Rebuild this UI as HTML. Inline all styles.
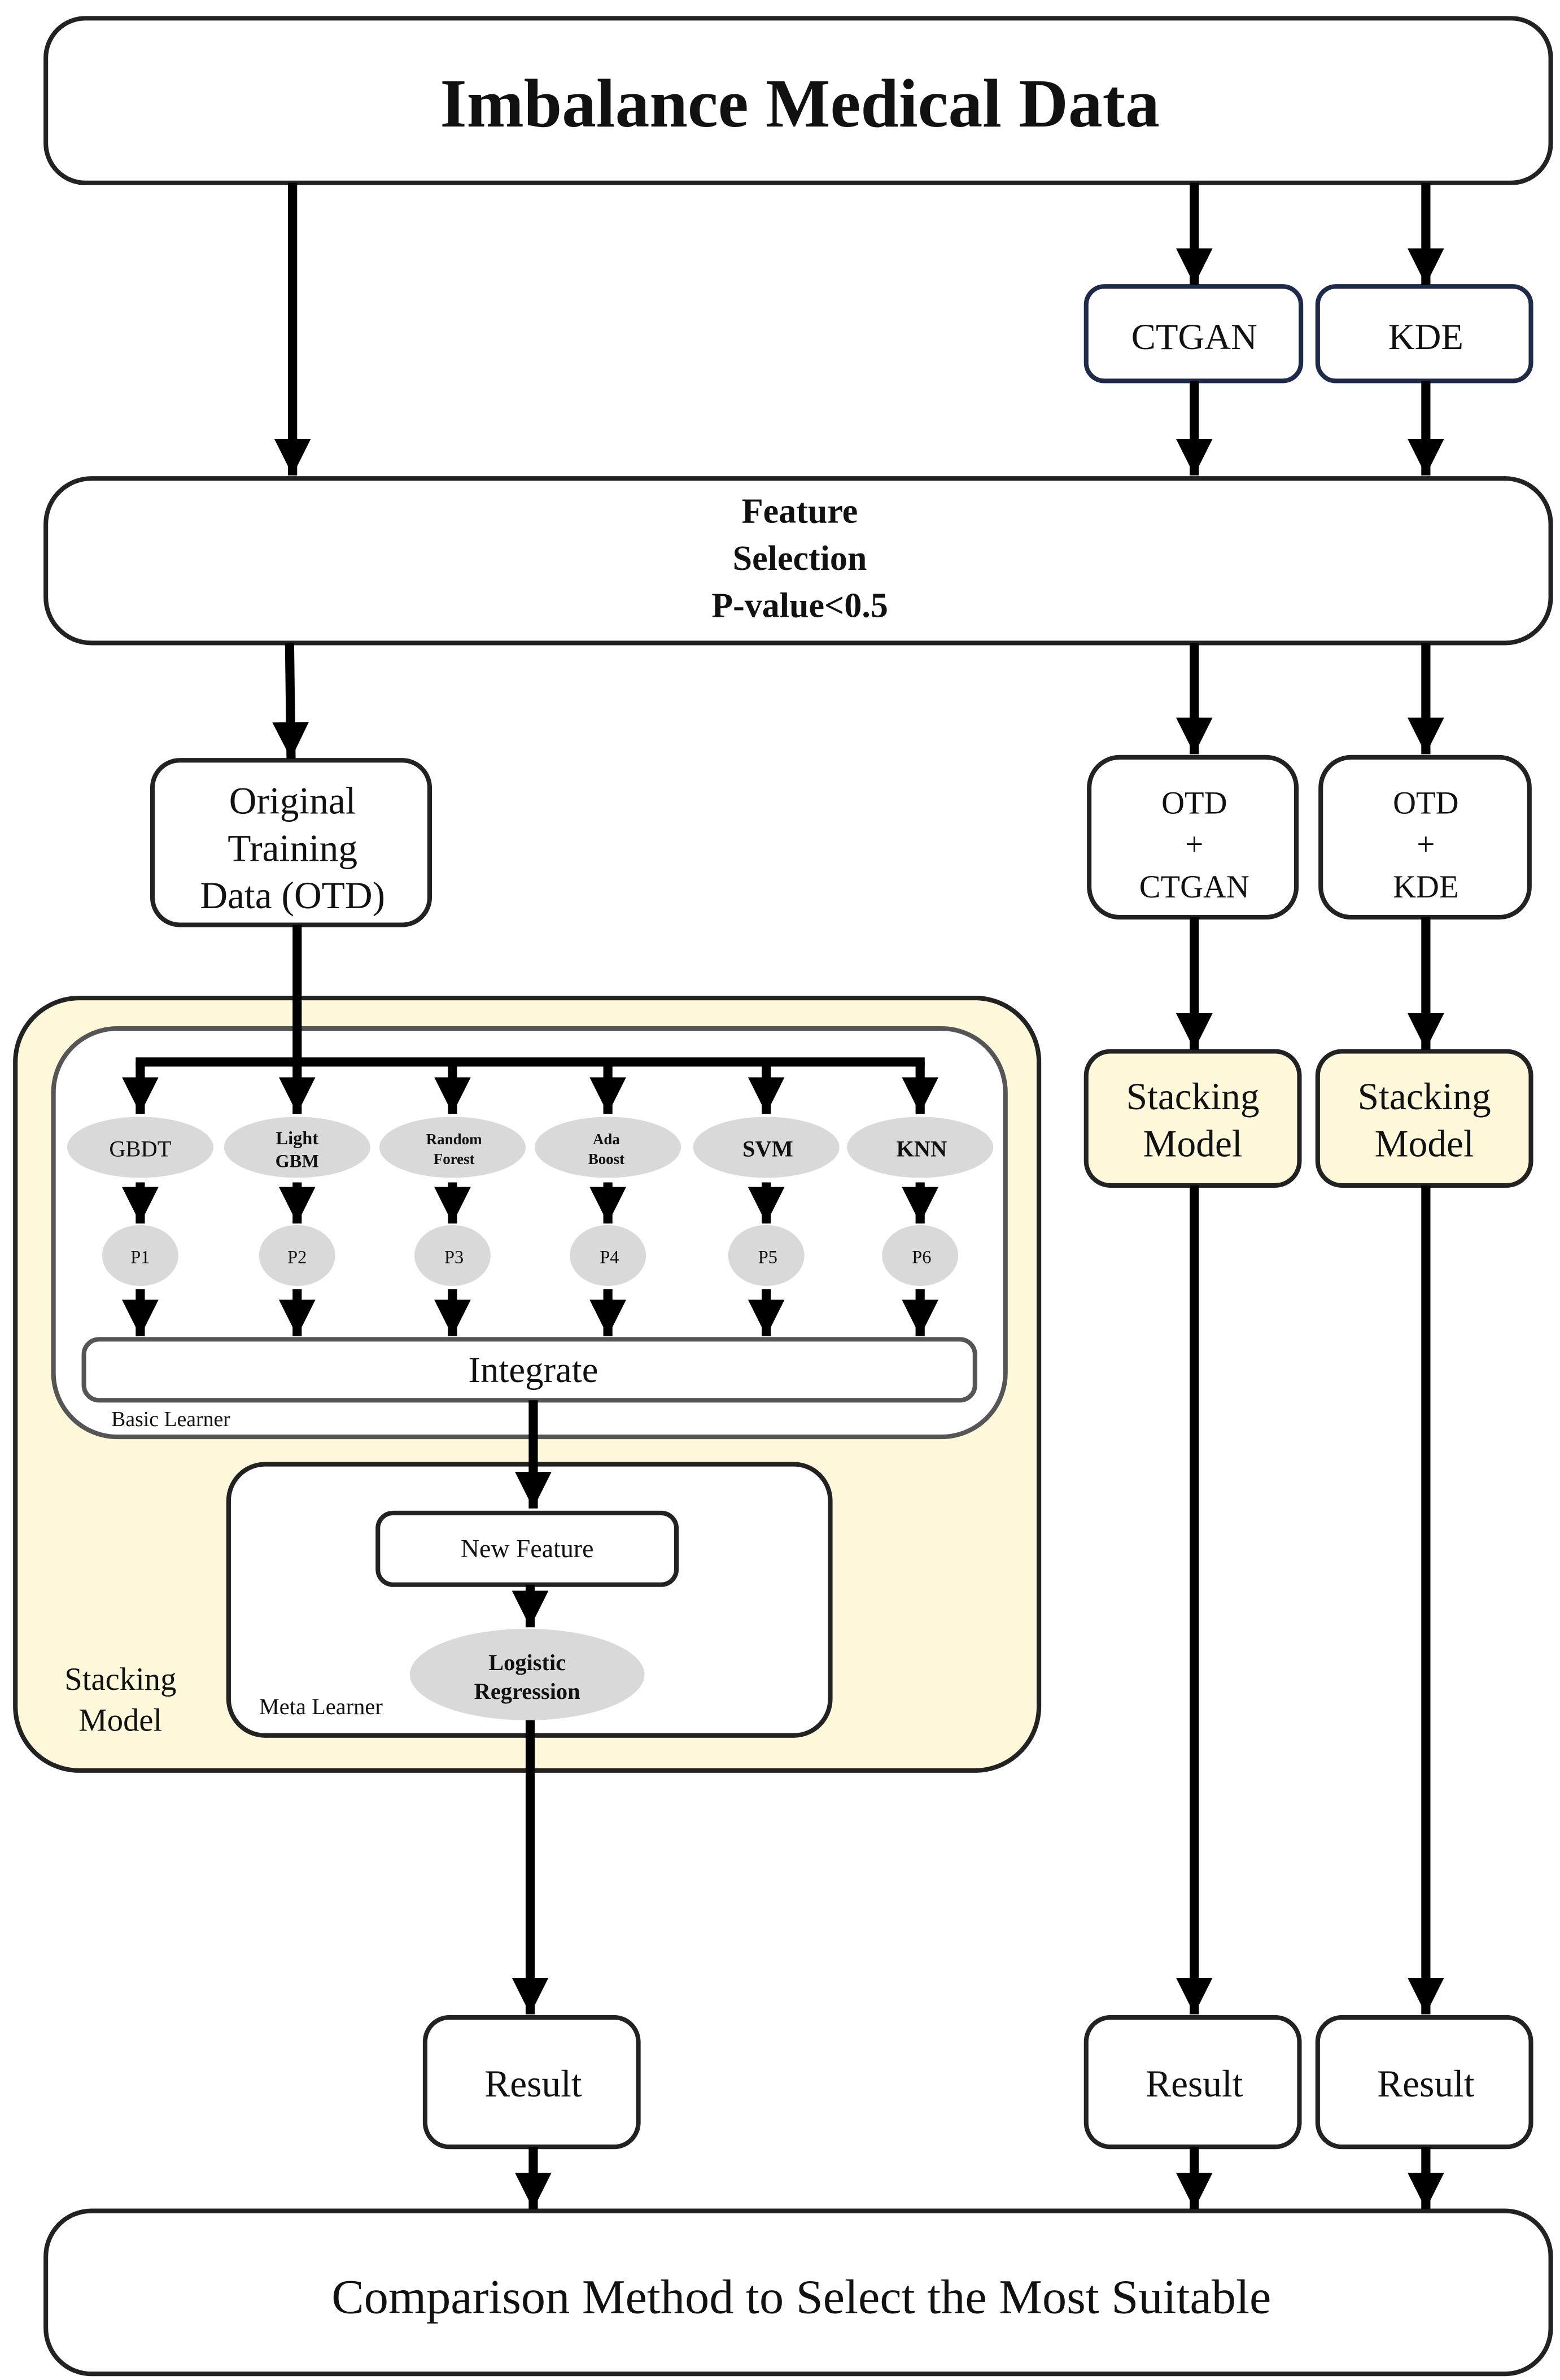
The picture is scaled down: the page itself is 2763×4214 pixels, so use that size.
<!DOCTYPE html>
<html><head><meta charset="utf-8"><style>html,body{margin:0;padding:0;background:#fff}svg{display:block}</style></head>
<body>
<svg width="2763" height="4214" viewBox="0 0 1024 1562" xmlns="http://www.w3.org/2000/svg" font-family="Liberation Serif, serif">
<defs>
<marker id="a" viewBox="0 0 10 10" refX="10" refY="5" markerWidth="4" markerHeight="4" orient="auto" markerUnits="strokeWidth">
<path d="M0,0 L10,5 L0,10 z" fill="#000"/></marker>
</defs>
<rect width="1024" height="1562" fill="#fff"/>
<g fill="none" stroke="#222" stroke-width="3">
<rect x="30" y="12" width="988" height="108" rx="26" fill="#fff"/>
<rect x="713" y="188" width="141" height="62" rx="12" fill="#fff" stroke="#1d2a4a"/>
<rect x="865" y="188" width="140" height="62" rx="12" fill="#fff" stroke="#1d2a4a"/>
<rect x="30" y="314" width="988" height="108" rx="30" fill="#fff"/>
<rect x="100" y="499" width="182" height="108" rx="18" fill="#fff"/>
<rect x="715" y="497" width="136" height="105" rx="20" fill="#fff"/>
<rect x="867" y="497" width="137" height="105" rx="20" fill="#fff"/>
<rect x="10" y="655" width="672" height="507" rx="42" fill="#fdf8da"/>
<rect x="35" y="675" width="625" height="268" rx="42" fill="#fff" stroke="#555"/>
<rect x="55" y="879" width="585" height="40" rx="10" fill="#fff" stroke="#555"/>
<rect x="150" y="961" width="395" height="178" rx="24" fill="#fff"/>
<rect x="248" y="993" width="196" height="47" rx="10" fill="#fff"/>
<rect x="713" y="690" width="140" height="88" rx="16" fill="#fdf8da"/>
<rect x="865" y="690" width="140" height="88" rx="16" fill="#fdf8da"/>
<rect x="279" y="1324" width="140" height="85" rx="16" fill="#fff"/>
<rect x="713" y="1324" width="140" height="85" rx="16" fill="#fff"/>
<rect x="865" y="1324" width="140" height="85" rx="16" fill="#fff"/>
<rect x="30" y="1451" width="988" height="107" rx="30" fill="#fff"/>
</g>
<g fill="#d9d9d9">
<ellipse cx="92" cy="753" rx="48" ry="20"/><ellipse cx="195" cy="753" rx="48" ry="20"/>
<ellipse cx="297" cy="753" rx="48" ry="20"/><ellipse cx="399" cy="753" rx="48" ry="20"/>
<ellipse cx="503" cy="753" rx="48" ry="20"/><ellipse cx="604" cy="753" rx="48" ry="20"/>
<ellipse cx="92" cy="824" rx="25" ry="20"/><ellipse cx="195" cy="824" rx="25" ry="20"/>
<ellipse cx="297" cy="824" rx="25" ry="20"/><ellipse cx="399" cy="824" rx="25" ry="20"/>
<ellipse cx="503" cy="824" rx="25" ry="20"/><ellipse cx="604" cy="824" rx="25" ry="20"/>
<ellipse cx="346" cy="1099" rx="77" ry="30"/>
</g>
<g stroke="#000" stroke-width="6" fill="none" marker-end="url(#a)">
<line x1="192" y1="120" x2="192" y2="312"/>
<line x1="784" y1="120" x2="784" y2="187"/><line x1="936" y1="120" x2="936" y2="187"/>
<line x1="784" y1="250" x2="784" y2="312"/><line x1="936" y1="250" x2="936" y2="312"/>
<line x1="190" y1="422" x2="191" y2="498"/>
<line x1="784" y1="422" x2="784" y2="495"/><line x1="936" y1="422" x2="936" y2="495"/>
<line x1="195" y1="607" x2="195" y2="731"/>
<line x1="92" y1="697" x2="92" y2="731"/><line x1="297" y1="697" x2="297" y2="731"/>
<line x1="399" y1="697" x2="399" y2="731"/><line x1="503" y1="697" x2="503" y2="731"/>
<line x1="604" y1="697" x2="604" y2="731"/>
<line x1="92" y1="776" x2="92" y2="803"/><line x1="195" y1="776" x2="195" y2="803"/>
<line x1="297" y1="776" x2="297" y2="803"/><line x1="399" y1="776" x2="399" y2="803"/>
<line x1="503" y1="776" x2="503" y2="803"/><line x1="604" y1="776" x2="604" y2="803"/>
<line x1="92" y1="846" x2="92" y2="877"/><line x1="195" y1="846" x2="195" y2="877"/>
<line x1="297" y1="846" x2="297" y2="877"/><line x1="399" y1="846" x2="399" y2="877"/>
<line x1="503" y1="846" x2="503" y2="877"/><line x1="604" y1="846" x2="604" y2="877"/>
<line x1="350" y1="919" x2="350" y2="990"/>
<line x1="348" y1="1040" x2="348" y2="1068"/>
<line x1="348" y1="1129" x2="348" y2="1322"/>
<line x1="784" y1="602" x2="784" y2="689"/><line x1="936" y1="602" x2="936" y2="689"/>
<line x1="784" y1="778" x2="784" y2="1322"/><line x1="936" y1="778" x2="936" y2="1322"/>
<line x1="350" y1="1409" x2="350" y2="1450"/><line x1="784" y1="1409" x2="784" y2="1450"/>
<line x1="936" y1="1409" x2="936" y2="1450"/>
</g>
<line x1="89" y1="697" x2="607" y2="697" stroke="#000" stroke-width="6"/>
<g text-anchor="middle" fill="#111">
<text x="525" y="83" font-size="45" font-weight="bold">Imbalance Medical Data</text>
<text x="784" y="229" font-size="24">CTGAN</text>
<text x="936" y="229" font-size="24">KDE</text>
<g font-size="23" font-weight="bold"><text x="525" y="343">Feature</text><text x="525" y="374">Selection</text><text x="525" y="405">P-value&lt;0.5</text></g>
<g font-size="25"><text x="192" y="534">Original</text><text x="192" y="565">Training</text><text x="192" y="596">Data (OTD)</text></g>
<g font-size="21"><text x="784" y="534">OTD</text><text x="784" y="561">+</text><text x="784" y="589">CTGAN</text>
<text x="936" y="534">OTD</text><text x="936" y="561">+</text><text x="936" y="589">KDE</text></g>
<text x="92" y="759" font-size="15">GBDT</text>
<text x="195" y="751" font-size="12" font-weight="bold">Light</text><text x="195" y="766" font-size="12" font-weight="bold">GBM</text>
<text x="298" y="751" font-size="10" font-weight="bold">Random</text><text x="298" y="764" font-size="10" font-weight="bold">Forest</text>
<text x="398" y="751" font-size="10" font-weight="bold">Ada</text><text x="398" y="764" font-size="10" font-weight="bold">Boost</text>
<text x="504" y="759" font-size="15" font-weight="bold">SVM</text>
<text x="605" y="759" font-size="15" font-weight="bold">KNN</text>
<g font-size="12"><text x="92" y="829">P1</text><text x="195" y="829">P2</text><text x="298" y="829">P3</text><text x="400" y="829">P4</text><text x="504" y="829">P5</text><text x="605" y="829">P6</text></g>
<text x="350" y="907" font-size="24">Integrate</text>
<text x="346" y="1022" font-size="17">New Feature</text>
<text x="346" y="1096" font-size="15" font-weight="bold">Logistic</text><text x="346" y="1115" font-size="15" font-weight="bold">Regression</text>
<text x="79" y="1109" font-size="21">Stacking</text><text x="79" y="1136" font-size="21">Model</text>
<g font-size="25"><text x="783" y="728">Stacking</text><text x="783" y="759">Model</text>
<text x="935" y="728">Stacking</text><text x="935" y="759">Model</text>
<text x="350" y="1376">Result</text><text x="784" y="1376">Result</text><text x="936" y="1376">Result</text></g>
<text x="526" y="1518" font-size="32">Comparison Method to Select the Most Suitable</text>
</g>
<text x="73" y="936" font-size="14" fill="#111">Basic Learner</text>
<text x="170" y="1125" font-size="15" fill="#111">Meta Learner</text>
</svg>
</body></html>
